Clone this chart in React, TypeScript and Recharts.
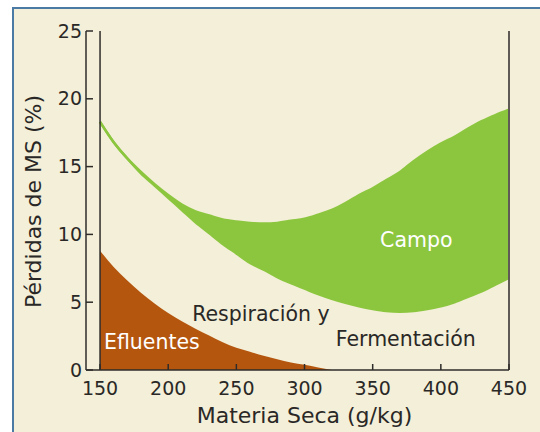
import React from "react";
import {
  ComposedChart,
  Area,
  XAxis,
  YAxis,
  ReferenceLine,
  ReferenceDot,
} from "recharts";

// dry matter content (g/kg)
const materiaSeca = [
  150, 160, 170, 180, 190, 200, 210, 220, 230, 240, 250, 260, 270, 280, 290,
  300, 310, 320, 330, 340, 350, 360, 370, 380, 390, 400, 410, 420, 430, 440,
  450,
];

// "Campo" band, upper and lower edge (%)
const campoAlto = [
  18.3, 16.8, 15.6, 14.6, 13.7, 12.9, 12.2, 11.7, 11.4, 11.1, 10.95, 10.85,
  10.8, 10.85, 11.0, 11.15, 11.45, 11.8, 12.3, 12.9, 13.4, 14.0, 14.6, 15.4,
  16.1, 16.7, 17.2, 17.8, 18.35, 18.8, 19.2,
];
const campoBajo = [
  18.3, 16.8, 15.6, 14.5, 13.6, 12.7, 11.8, 10.9, 10.1, 9.3, 8.6, 7.9, 7.4,
  6.85, 6.4, 6.0, 5.6, 5.25, 4.95, 4.7, 4.5, 4.35, 4.3, 4.35, 4.5, 4.7, 5.0,
  5.4, 5.8, 6.3, 6.8,
];

// effluent losses (%), none above ~320 g/kg
const efluentes = [
  8.8, 7.6, 6.6, 5.7, 4.9, 4.2, 3.6, 3.05, 2.55, 2.05, 1.65, 1.35, 1.05, 0.8,
  0.55, 0.38, 0.18, 0, null, null, null, null, null, null, null, null, null,
  null, null, null, null,
];

const xTicks = [150, 200, 250, 300, 350, 400, 450];
const yTicks = [0, 5, 10, 15, 20, 25];

const data = materiaSeca.map((x, i) => ({
  x,
  campo: [campoBajo[i], campoAlto[i]],
  efluentes: efluentes[i],
}));

const font = "'DejaVu Sans', sans-serif";
const textColor = "#2a2826";
const axisColor = "#2e2c2a";
const green = "#8cc63f";
const brown = "#b5560f";

const YTick = (props: any) => {
  const { x, y, payload } = props;
  return (
    <g>
      <line x1={x} x2={x + 7} y1={y} y2={y} stroke={axisColor} strokeWidth={1.5} />
      <text
        x={x - 4}
        y={y}
        dy={6.5}
        textAnchor="end"
        fontSize={19}
        fontFamily={font}
        fill={textColor}
      >
        {payload.value}
      </text>
    </g>
  );
};

const XTick = (props: any) => {
  const { x, y, payload } = props;
  return (
    <g>
      <line x1={x} x2={x} y1={y} y2={y - 6} stroke={axisColor} strokeWidth={1.5} />
      <text
        x={x}
        y={y}
        dy={25}
        textAnchor="middle"
        fontSize={19}
        fontFamily={font}
        fill={textColor}
      >
        {payload.value}
      </text>
    </g>
  );
};

const labelStyle = { fontSize: 20.5, fontFamily: font };

export default function App() {
  return (
    <div
      style={{
        position: "absolute",
        left: 0,
        top: 0,
        width: 540,
        height: 432,
        background: "#ffffff",
        overflow: "hidden",
      }}
    >
      <div
        style={{
          position: "absolute",
          left: 12,
          top: 7,
          width: 560,
          height: 460,
          background: "#f3efd8",
          border: "2px solid #4b7aa5",
        }}
      />
      <div style={{ position: "absolute", left: 0, top: 0 }}>
        <ComposedChart
          width={540}
          height={432}
          data={data}
          margin={{ top: 31, right: 31, left: 0, bottom: 0 }}
        >
          <XAxis
            dataKey="x"
            type="number"
            domain={[139.7, 450]}
            ticks={xTicks}
            allowDataOverflow
            height={62}
            tickSize={0}
            tickMargin={0}
            tickLine={false}
            tick={<XTick />}
            axisLine={{ stroke: axisColor, strokeWidth: 1.5 }}
            label={{
              value: "Materia Seca (g/kg)",
              position: "insideBottom",
              offset: 9,
              dx: 7,
              fill: textColor,
              fontSize: 22,
              fontFamily: font,
            }}
          />
          <YAxis
            type="number"
            domain={[0, 25]}
            ticks={yTicks}
            width={86}
            tickSize={0}
            tickMargin={0}
            tickLine={false}
            tick={<YTick />}
            axisLine={{ stroke: axisColor, strokeWidth: 1.5 }}
            label={{
              value: "Pérdidas de MS (%)",
              angle: -90,
              position: "insideLeft",
              offset: 33,
              dy: 1,
              fill: textColor,
              fontSize: 22,
              fontFamily: font,
              style: { textAnchor: "middle" },
            }}
          />
          <Area
            dataKey="campo"
            type="monotone"
            fill={green}
            fillOpacity={1}
            stroke={green}
            strokeWidth={2.5}
            isAnimationActive={false}
          />
          <Area
            dataKey="efluentes"
            type="monotone"
            baseValue={0}
            fill={brown}
            fillOpacity={1}
            stroke="none"
            isAnimationActive={false}
          />
          <ReferenceLine x={150} stroke={axisColor} strokeWidth={1.5} />
          <ReferenceLine x={450} stroke="#5f5a55" strokeWidth={2} />
          <ReferenceDot
            x={382}
            y={9.6}
            r={0}
            fill="none"
            stroke="none"
            label={{ value: "Campo", fill: "#ffffff", ...labelStyle }}
          />
          <ReferenceDot
            x={188}
            y={2.08}
            r={0}
            fill="none"
            stroke="none"
            label={{ value: "Efluentes", fill: "#ffffff", ...labelStyle }}
          />
          <ReferenceDot
            x={268}
            y={4.17}
            r={0}
            fill="none"
            stroke="none"
            label={{ value: "Respiración y", fill: textColor, ...labelStyle }}
          />
          <ReferenceDot
            x={374.3}
            y={2.32}
            r={0}
            fill="none"
            stroke="none"
            label={{ value: "Fermentación", fill: textColor, ...labelStyle }}
          />
        </ComposedChart>
      </div>
    </div>
  );
}
